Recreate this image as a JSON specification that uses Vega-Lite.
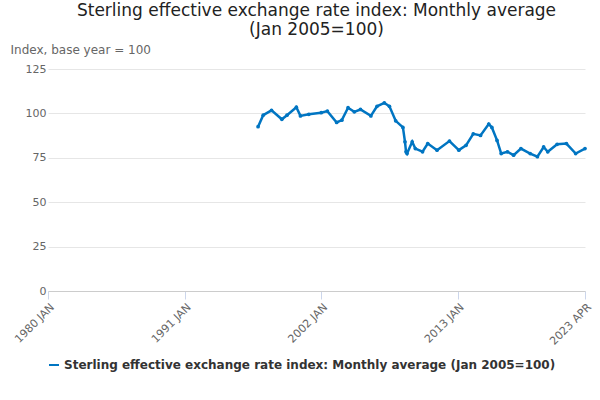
{
  "$schema": "https://vega.github.io/schema/vega-lite/v6.json",
  "width": 537,
  "height": 222,
  "padding": {"left": 10, "top": 2, "right": 16, "bottom": 2},
  "config": {
    "font": "DejaVu Sans",
    "view": {"stroke": null},
    "axis": {"labelColor": "#666", "labelFontSize": 11, "titleColor": "#666"}
  },
  "title": {
    "text": ["Sterling effective exchange rate index: Monthly average", "(Jan 2005=100)"],
    "fontSize": 17,
    "fontWeight": "normal",
    "color": "#222",
    "offset": 4
  },
  "data": {
    "values": [
      {"date": "1996-12", "v": 92.5},
      {"date": "1997-05", "v": 99},
      {"date": "1998-01", "v": 101.7},
      {"date": "1998-11", "v": 96.7},
      {"date": "1999-04", "v": 99},
      {"date": "2000-01", "v": 103.5},
      {"date": "2000-05", "v": 98.6},
      {"date": "2001-01", "v": 99.5},
      {"date": "2002-01", "v": 100.4},
      {"date": "2002-07", "v": 101.3},
      {"date": "2003-04", "v": 94.9},
      {"date": "2003-09", "v": 96.2},
      {"date": "2004-03", "v": 103.2},
      {"date": "2004-09", "v": 100.9},
      {"date": "2005-03", "v": 102.2},
      {"date": "2006-01", "v": 98.6},
      {"date": "2006-07", "v": 104},
      {"date": "2007-02", "v": 105.9},
      {"date": "2007-07", "v": 104},
      {"date": "2008-01", "v": 95.8},
      {"date": "2008-08", "v": 92.1},
      {"date": "2008-10", "v": 84},
      {"date": "2008-11", "v": 78.4},
      {"date": "2008-12", "v": 77.4},
      {"date": "2009-05", "v": 84},
      {"date": "2009-08", "v": 80.2},
      {"date": "2010-03", "v": 78.4},
      {"date": "2010-08", "v": 83},
      {"date": "2011-05", "v": 79.3},
      {"date": "2012-05", "v": 84.4},
      {"date": "2013-02", "v": 79.3},
      {"date": "2013-09", "v": 82},
      {"date": "2014-04", "v": 88.5},
      {"date": "2014-11", "v": 87.6},
      {"date": "2015-07", "v": 94},
      {"date": "2015-10", "v": 92.1},
      {"date": "2016-03", "v": 84.8},
      {"date": "2016-07", "v": 77.4},
      {"date": "2017-01", "v": 78.4},
      {"date": "2017-07", "v": 76.5},
      {"date": "2018-02", "v": 80.2},
      {"date": "2018-11", "v": 77.4},
      {"date": "2019-06", "v": 75.6},
      {"date": "2019-12", "v": 81.1},
      {"date": "2020-04", "v": 78.4},
      {"date": "2021-01", "v": 82.6},
      {"date": "2021-10", "v": 83},
      {"date": "2022-07", "v": 77.4},
      {"date": "2023-04", "v": 80.2}
    ]
  },
  "transform": [
    {"calculate": "'Sterling effective exchange rate index: Monthly average (Jan 2005=100)'", "as": "series"}
  ],
  "mark": {"type": "line", "strokeWidth": 2.5, "point": {"size": 14, "filled": true}},
  "encoding": {
    "x": {
      "field": "date",
      "type": "temporal",
      "scale": {"domain": [{"year": 1980, "month": 1}, {"year": 2023, "month": 4}]},
      "axis": {
        "title": null,
        "grid": false,
        "labelAngle": -45,
        "labelAlign": "right",
        "domainColor": "#ccc",
        "tickColor": "#ccd6eb",
        "tickSize": 8,
        "values": [
          {"year": 1980, "month": 1}, {"year": 1991, "month": 1},
          {"year": 2002, "month": 1}, {"year": 2013, "month": 1},
          {"year": 2023, "month": 4}
        ],
        "labelExpr": "timeFormat(datum.value, '%Y ') + upper(timeFormat(datum.value, '%b'))",
        "labelOverlap": false
      }
    },
    "y": {
      "field": "v",
      "type": "quantitative",
      "scale": {"domain": [0, 125]},
      "axis": {
        "title": "Index, base year = 100",
        "titleAngle": 0,
        "titleAlign": "left",
        "titleFontWeight": "normal",
        "titleFontSize": 12,
        "titleX": -38,
        "titleY": -13,
        "values": [0, 25, 50, 75, 100, 125],
        "domain": false,
        "ticks": false,
        "gridColor": "#e6e6e6"
      }
    },
    "color": {
      "field": "series",
      "type": "nominal",
      "scale": {"range": ["#0075c2"]},
      "legend": {
        "title": null,
        "orient": "bottom",
        "labelFontSize": 12,
        "labelFontWeight": "bold",
        "labelColor": "#333",
        "labelLimit": 600,
        "symbolType": "stroke",
        "symbolStrokeWidth": 2,
        "offset": 12
      }
    }
  }
}
